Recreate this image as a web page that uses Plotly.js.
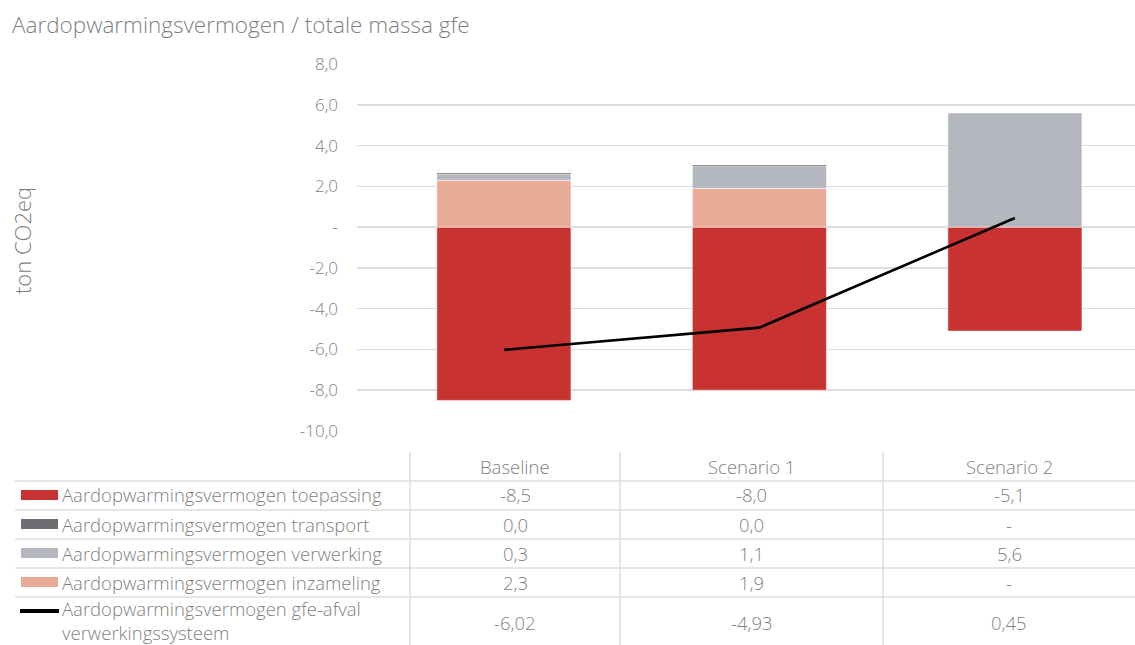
<!DOCTYPE html>
<html>
<head>
<meta charset="utf-8">
<script src="https://cdn.plot.ly/plotly-3.0.1.min.js"></script>
<style>
  html, body { margin: 0; padding: 0; background: #fff; }
  #chart { width: 1135px; height: 645px; }
</style>
</head>
<body>
<div id="chart"></div>
<script>
// Scenarios compared
const categories = ['Baseline', 'Scenario 1', 'Scenario 2'];

// Global warming potential per component (ton CO2eq); null = not applicable
const toepassing = [-8.5, -8.0, -5.1];
const transport  = [0.04, 0.04, null];
const verwerking = [0.3, 1.1, 5.6];
const inzameling = [2.3, 1.9, null];
// Net result of the whole processing system
const systeemTotaal = [-6.02, -4.93, 0.45];

// Y axis ticks
const yTickVals  = [8, 6, 4, 2, 0, -2, -4, -6, -8, -10];
const yTickTexts = ['8,0', '6,0', '4,0', '2,0', '-', '-2,0', '-4,0', '-6,0', '-8,0', '-10,0'];

const chartTitle = 'Aardopwarmingsvermogen / totale massa gfe';
const yTitle = 'ton CO2eq';

const rowLabels = [
  'Aardopwarmingsvermogen toepassing',
  'Aardopwarmingsvermogen transport',
  'Aardopwarmingsvermogen verwerking',
  'Aardopwarmingsvermogen inzameling',
  'Aardopwarmingsvermogen gfe-afval<br>verwerkingssysteem'
];

const COLORS = {
  toepassing: '#c83332',
  transport: '#6e6e72',
  verwerking: '#b4b7be',
  inzameling: '#e8ab97',
  line: '#000000'
};
const TEXT = '#7f7f7f';
const GRID = '#dcdce1';
const FONT = 'Open Sans, Noto Sans, sans-serif';
const TABLE_SIZE = 18.5;

// Plot area in pixels (the table sits below it, in paper coordinates)
const W = 1135, H = 645;
const PL = 357, PR = 1135, PT = 64, PB = 431;
const px = x => (x - PL) / (PR - PL);
const py = y => (PB - y) / (PB - PT);

function fmt(v, d) {
  if (v === null || v === undefined) return '-';
  return v.toFixed(d).replace('.', ',');
}

const tableFont = { family: FONT, size: TABLE_SIZE, color: TEXT, weight: 300 };
const barLine = { color: 'rgba(255,255,255,0.55)', width: 1 };
const barCommon = { type: 'bar', x: categories, width: 0.525, hoverinfo: 'skip', showlegend: false };

const traces = [
  Object.assign({}, barCommon, { name: 'toepassing', y: toepassing, marker: { color: COLORS.toepassing, line: barLine } }),
  Object.assign({}, barCommon, { name: 'inzameling', y: inzameling, marker: { color: COLORS.inzameling, line: barLine } }),
  Object.assign({}, barCommon, { name: 'verwerking', y: verwerking, marker: { color: COLORS.verwerking, line: barLine } }),
  Object.assign({}, barCommon, { name: 'transport', y: transport, marker: { color: COLORS.transport, line: { width: 0 } } }),
  {
    type: 'scatter', mode: 'lines', x: categories, y: systeemTotaal,
    line: { color: COLORS.line, width: 2.6 }, hoverinfo: 'skip', showlegend: false
  }
];

// Table geometry (pixels)
const colDividers = [410, 620, 883, 1135];
const rowLines = [481, 510, 539, 568, 597];
const rowCenters = [495, 524, 553, 582, 620];
const headerY = 466;

const shapes = [];
const annotations = [];

// horizontal rules
rowLines.forEach(y => {
  shapes.push({ type: 'line', xref: 'paper', yref: 'paper',
    x0: px(15), x1: px(1135), y0: py(y), y1: py(y),
    line: { color: GRID, width: 1.5 } });
});
// vertical rules
colDividers.slice(0, 3).forEach(x => {
  shapes.push({ type: 'line', xref: 'paper', yref: 'paper',
    x0: px(x), x1: px(x), y0: py(452), y1: py(645),
    line: { color: GRID, width: 1.5 } });
});

// column headers
categories.forEach((c, i) => {
  const cx = (colDividers[i] + colDividers[i + 1]) / 2;
  annotations.push({ xref: 'paper', yref: 'paper', x: px(cx), y: py(headerY),
    text: c, showarrow: false, xanchor: 'center', yanchor: 'middle', font: tableFont });
});

// rows: swatch, label, values
const rowSeries = [toepassing, transport, verwerking, inzameling, systeemTotaal];
const rowColors = [COLORS.toepassing, COLORS.transport, COLORS.verwerking, COLORS.inzameling, COLORS.line];
const rowDecimals = [1, 1, 1, 1, 2];

rowSeries.forEach((series, r) => {
  const cy = rowCenters[r];
  if (r < 4) {
    shapes.push({ type: 'rect', xref: 'paper', yref: 'paper',
      x0: px(21), x1: px(58), y0: py(cy - 5), y1: py(cy + 5),
      fillcolor: rowColors[r], line: { width: 0 } });
  } else {
    shapes.push({ type: 'line', xref: 'paper', yref: 'paper',
      x0: px(20), x1: px(59), y0: py(611), y1: py(611),
      line: { color: rowColors[r], width: 4 } });
  }
  annotations.push({ xref: 'paper', yref: 'paper', x: px(60), y: py(cy),
    text: rowLabels[r], showarrow: false, xanchor: 'left', yanchor: 'middle', align: 'left',
    font: tableFont });
  series.forEach((v, i) => {
    const cx = (colDividers[i] + colDividers[i + 1]) / 2;
    annotations.push({ xref: 'paper', yref: 'paper', x: px(cx), y: py(r < 4 ? cy : 622),
      text: fmt(v, rowDecimals[r]), showarrow: false, xanchor: 'center', yanchor: 'middle',
      font: tableFont });
  });
});

// axis title
annotations.push({ xref: 'paper', yref: 'paper', x: px(22), y: py(241),
  text: yTitle, textangle: -90, showarrow: false, xanchor: 'center', yanchor: 'middle',
  font: { family: FONT, size: 22, color: TEXT, weight: 300 } });

const layout = {
  width: W, height: H,
  margin: { l: PL, r: W - PR, t: PT, b: H - PB, pad: 0 },
  paper_bgcolor: '#fff', plot_bgcolor: '#fff',
  barmode: 'relative',
  title: { text: chartTitle, x: 12 / W, xanchor: 'left', y: 1 - 25 / H, yanchor: 'middle',
    font: { family: FONT, size: 22.5, color: TEXT, weight: 300 } },
  xaxis: {
    type: 'category', range: [-0.575, 2.47], showticklabels: false,
    showgrid: false, zeroline: false, showline: false, ticks: ''
  },
  yaxis: {
    range: [-10, 8], tickvals: yTickVals, ticktext: yTickTexts,
    showgrid: true, gridcolor: GRID, gridwidth: 1.5,
    zeroline: true, zerolinecolor: GRID, zerolinewidth: 1.5,
    showline: false, ticks: '', ticklabelstandoff: 18,
    tickfont: { family: FONT, size: 17, color: TEXT, weight: 300 }
  },
  shapes: shapes,
  annotations: annotations
};

Plotly.newPlot('chart', traces, layout, { displayModeBar: false, staticPlot: true });
</script>
</body>
</html>
